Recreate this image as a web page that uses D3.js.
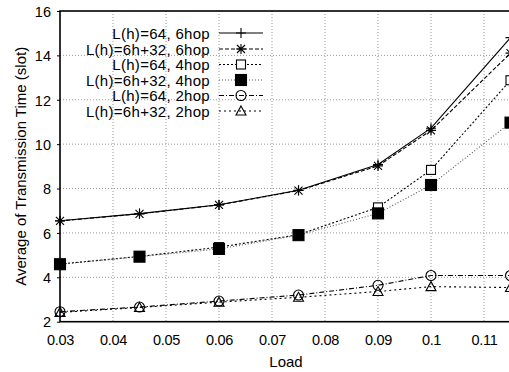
<!DOCTYPE html>
<html>
<head>
<meta charset="utf-8">
<script src="https://cdn.jsdelivr.net/npm/d3@7"></script>
<style>
  html, body { margin: 0; padding: 0; background: #fff; }
  svg { display: block; font-family: "Liberation Sans", Arial, sans-serif; }
</style>
</head>
<body>
<svg id="chart" width="509" height="372"></svg>
<script>
// Load values on the x axis
const loads = [0.03, 0.045, 0.06, 0.075, 0.09, 0.1, 0.115];

// Average transmission time (slot) per configuration
const seriesNames = [
  "L(h)=64, 6hop",
  "L(h)=6h+32, 6hop",
  "L(h)=64, 4hop",
  "L(h)=6h+32, 4hop",
  "L(h)=64, 2hop",
  "L(h)=6h+32, 2hop"
];
const hop6_64 = [6.55, 6.87, 7.27, 7.92, 9.08, 10.72, 14.8];
const hop6_32 = [6.54, 6.86, 7.26, 7.91, 9.02, 10.62, 14.1];
const hop4_64 = [4.6, 4.94, 5.36, 5.92, 7.15, 8.84, 12.88];
const hop4_32 = [4.59, 4.93, 5.28, 5.9, 6.88, 8.16, 10.97];
const hop2_64 = [2.45, 2.66, 2.93, 3.2, 3.64, 4.08, 4.08];
const hop2_32 = [2.42, 2.64, 2.88, 3.1, 3.36, 3.58, 3.54];

const xTicks = [0.03, 0.04, 0.05, 0.06, 0.07, 0.08, 0.09, 0.1, 0.11];
const yTicks = [2, 4, 6, 8, 10, 12, 14, 16];

const series = [
  { name: seriesNames[0], values: hop6_64, dash: null, color: "#000", marker: "plus" },
  { name: seriesNames[1], values: hop6_32, dash: "4,2", color: "#000", marker: "star" },
  { name: seriesNames[2], values: hop4_64, dash: "2,2", color: "#000", marker: "square" },
  { name: seriesNames[3], values: hop4_32, dash: "1,2", color: "#555", marker: "filledSquare" },
  { name: seriesNames[4], values: hop2_64, dash: "5,2,1,2", color: "#000", marker: "circle" },
  { name: seriesNames[5], values: hop2_32, dash: "2,3", color: "#000", marker: "triangle" }
];

const FONT = "Liberation Sans, Arial, sans-serif";
const svg = d3.select("#chart");
const m = { left: 60, top: 11, right: 510.5, bottom: 321.7 };

const x = d3.scaleLinear().domain([0.03, 0.115]).range([m.left, m.right]);
const y = d3.scaleLinear().domain([2, 16]).range([m.bottom, m.top]);

// Dotted grid
const grid = svg.append("g");
xTicks.slice(1).forEach(t => {
  grid.append("line")
    .attr("x1", x(t)).attr("x2", x(t))
    .attr("y1", m.top).attr("y2", m.bottom)
    .attr("stroke", "#999").attr("stroke-width", 1)
    .attr("stroke-dasharray", "1,2");
});
yTicks.slice(1, -1).forEach(t => {
  grid.append("line")
    .attr("x1", m.left).attr("x2", m.right)
    .attr("y1", y(t)).attr("y2", y(t))
    .attr("stroke", "#999").attr("stroke-width", 1)
    .attr("stroke-dasharray", "1,2");
});

// Axes
const xAxis = d3.axisBottom(x).tickValues(xTicks).tickSize(0).tickPadding(13)
  .tickFormat(d => d3.format("")(+d.toFixed(3)));
const gx = svg.append("g").attr("transform", `translate(0,${m.bottom})`).call(xAxis);
gx.select(".domain").remove();
gx.selectAll("text").attr("font-size", 14.5).attr("fill", "#000")
  .attr("font-family", FONT).attr("letter-spacing", -0.3);

const yAxis = d3.axisLeft(y).tickValues(yTicks).tickSize(3).tickPadding(6);
const gy = svg.append("g").attr("transform", `translate(${m.left},0)`).call(yAxis);
gy.select(".domain").remove();
gy.selectAll("line").attr("stroke", "#000");
gy.selectAll("text").attr("font-size", 14.5).attr("fill", "#000")
  .attr("font-family", FONT).attr("dy", "0.36em");

// Plot border
svg.append("rect")
  .attr("x", m.left).attr("y", m.top)
  .attr("width", m.right - m.left).attr("height", m.bottom - m.top)
  .attr("fill", "none").attr("stroke", "#000").attr("stroke-width", 1.6);

// Axis titles
svg.append("text")
  .attr("x", 286).attr("y", 366.5)
  .attr("text-anchor", "middle").attr("font-size", 15)
  .text("Load");
svg.append("text")
  .attr("transform", `translate(26,${(m.top + m.bottom) / 2}) rotate(-90)`)
  .attr("text-anchor", "middle").attr("font-size", 15)
  .text("Average of Transmission Time (slot)");

// Marker drawing
function drawMarker(g, type, cx, cy, color) {
  const s = g.append("g").attr("transform", `translate(${cx},${cy})`)
    .attr("stroke", color).attr("stroke-width", 1.1).attr("fill", "none");
  if (type === "plus") {
    s.append("path").attr("d", "M-5,0H5M0,-5V5");
  } else if (type === "star") {
    s.append("path").attr("d", "M-5,0H5M0,-5V5M-4,-4L4,4M-4,4L4,-4");
  } else if (type === "square") {
    s.append("rect").attr("x", -4.5).attr("y", -4.5).attr("width", 9).attr("height", 9)
      .attr("fill", "#fff");
  } else if (type === "filledSquare") {
    s.append("rect").attr("x", -5.5).attr("y", -5.5).attr("width", 11).attr("height", 11)
      .attr("fill", "#000").attr("stroke", "#000");
  } else if (type === "circle") {
    s.append("circle").attr("r", 5);
  } else if (type === "triangle") {
    s.append("path").attr("d", "M0,-5L5,4H-5Z");
  }
}

// Series lines and markers
const line = d3.line().x((d, i) => x(loads[i])).y(d => y(d));
series.forEach(sr => {
  svg.append("path")
    .datum(sr.values)
    .attr("d", line)
    .attr("fill", "none")
    .attr("stroke", sr.color)
    .attr("stroke-width", 1.1)
    .attr("stroke-dasharray", sr.dash);
});
series.forEach(sr => {
  const g = svg.append("g");
  sr.values.forEach((v, i) => drawMarker(g, sr.marker, x(loads[i]), y(v), "#000"));
});

// Legend
const legend = svg.append("g");
const rowY = [33, 49, 64.5, 80, 95.5, 111];
series.forEach((sr, i) => {
  legend.append("text")
    .attr("x", 210).attr("y", rowY[i] + 5.5)
    .attr("text-anchor", "end").attr("font-size", 15)
    .attr("letter-spacing", 0.3)
    .text(sr.name);
  legend.append("line")
    .attr("x1", 219).attr("x2", 263)
    .attr("y1", rowY[i]).attr("y2", rowY[i])
    .attr("stroke", sr.color).attr("stroke-width", 1.1)
    .attr("stroke-dasharray", sr.dash);
  drawMarker(legend, sr.marker, 241, rowY[i], "#000");
});
</script>
</body>
</html>
